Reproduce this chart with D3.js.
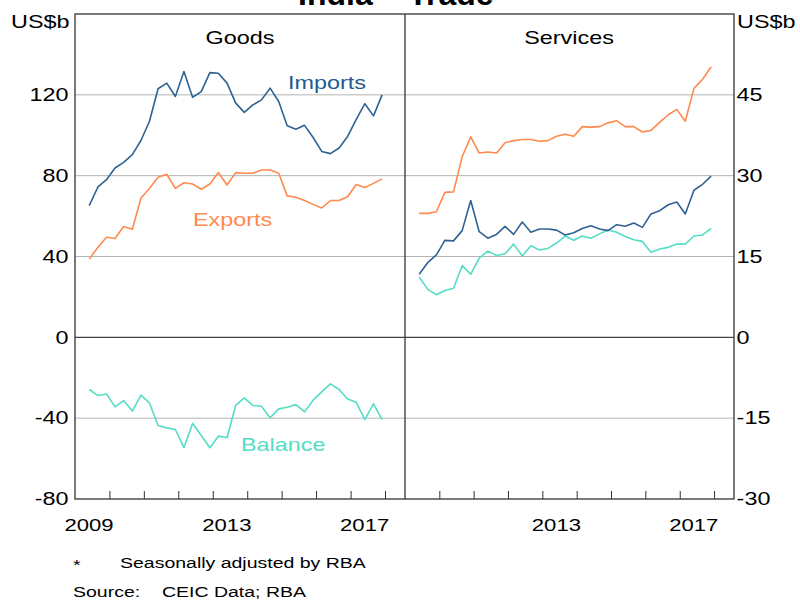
<!DOCTYPE html>
<html>
<head>
<meta charset="utf-8">
<script src="https://cdn.jsdelivr.net/npm/d3@7"></script>
<style>
  body { margin: 0; background: #fff; }
  text { font-family: "Liberation Sans", Arial, sans-serif; }
</style>
</head>
<body>
<script>
'use strict';

// quarterly observations (last month of quarter)
const quarters = [
  "2009-06", "2009-09", "2009-12", "2010-03", "2010-06", "2010-09", "2010-12",
  "2011-03", "2011-06", "2011-09", "2011-12", "2012-03", "2012-06", "2012-09",
  "2012-12", "2013-03", "2013-06", "2013-09", "2013-12", "2014-03", "2014-06",
  "2014-09", "2014-12", "2015-03", "2015-06", "2015-09", "2015-12", "2016-03",
  "2016-06", "2016-09", "2016-12", "2017-03", "2017-06", "2017-09", "2017-12"
];

// goods, US$b (left axis)
const goodsImports = [
  65.2, 74.4, 78.0, 83.8, 86.6, 90.4, 97.4, 106.8, 123.0, 125.8, 119.2, 131.5,
  118.8, 121.6, 131.0, 130.7, 125.8, 115.9, 111.3, 115.0, 117.5, 123.3, 116.7,
  104.7, 103.0, 104.9, 98.9, 92.0, 90.9, 93.7, 99.4, 107.7, 115.6, 109.6, 120.0
];
const goodsExports = [
  38.7, 44.6, 49.5, 48.9, 54.8, 53.5, 68.8, 73.7, 79.2, 80.7, 73.7, 76.5,
  75.9, 73.3, 75.9, 81.6, 75.4, 81.5, 81.2, 81.2, 82.8, 82.8, 81.2, 70.0,
  69.3, 67.7, 65.8, 64.0, 67.7, 67.7, 69.6, 75.6, 74.1, 76.2, 78.4
];
const goodsBalance = [
  -25.8, -28.8, -28.0, -34.4, -31.3, -36.5, -28.6, -32.4, -43.6, -44.8, -45.6,
  -54.6, -42.6, -48.6, -54.6, -48.9, -49.7, -33.7, -30.0, -33.7, -34.1, -39.8,
  -35.4, -34.6, -33.3, -36.9, -31.1, -27.0, -23.0, -25.8, -30.5, -32.1, -40.7,
  -32.9, -40.7
];

// services, US$b (right axis)
const servicesExports = [
  23.0, 23.0, 23.3, 26.9, 27.0, 33.5, 37.2, 34.2, 34.4, 34.2, 36.1, 36.5,
  36.7, 36.7, 36.4, 36.5, 37.3, 37.7, 37.3, 39.1, 39.0, 39.1, 39.8, 40.2,
  39.1, 39.1, 38.1, 38.4, 39.9, 41.3, 42.3, 40.1, 46.2, 47.9, 50.2
];
const servicesImports = [
  11.7, 13.9, 15.3, 18.0, 17.9, 19.8, 25.4, 19.6, 18.4, 19.1, 20.6, 19.1,
  21.4, 19.5, 20.1, 20.1, 19.9, 19.0, 19.4, 20.2, 20.7, 20.1, 19.8, 20.9,
  20.6, 21.2, 20.4, 22.9, 23.5, 24.6, 25.1, 22.9, 27.3, 28.4, 29.9
];
const servicesBalance = [
  11.2, 8.9, 7.9, 8.7, 9.1, 13.3, 11.7, 14.7, 16.0, 15.2, 15.5, 17.3,
  15.1, 17.0, 16.2, 16.5, 17.5, 18.8, 18.0, 18.8, 18.4, 19.2, 19.9, 19.5,
  18.7, 18.1, 17.8, 15.8, 16.4, 16.7, 17.3, 17.3, 18.8, 19.0, 20.2
];

// axis ticks
const leftTicks = [-80, -40, 0, 40, 80, 120];
const rightTicks = [-30, -15, 0, 15, 30, 45];
const gridTicks = [-40, 40, 80, 120];
const goodsYearLabels = [2009, 2013, 2017];
const servicesYearLabels = [2013, 2017];

(function () {

  let svgContainer = "";
  const parseQ = d3.timeParse("%Y-%m");
  const dates = quarters.map(parseQ);

  const colImports = "#2f6293";
  const colExports = "#ff8a4f";
  const colBalance = "#55dcc6";

  const top = 14, bottom = 499;
  const left = 75, mid = 405, right = 734;
  const stretch = 1.3; // text in the source is drawn wide

  window.onload = function () {
    svgContainer = d3.select('body')
      .append('svg')
      .attr('width', 800)
      .attr('height', 601);

    let maps = drawAxes();
    plotData(maps);
    makeLabels();
  }

  // wide text helper
  function addText(x, y, str, size, anchor, color) {
    return svgContainer.append('text')
      .attr('transform', 'translate(' + x + ',' + y + ') scale(' + stretch + ',1)')
      .attr('text-anchor', anchor || 'start')
      .attr('fill', color || '#000')
      .style('font-size', size + 'px')
      .text(str);
  }

  // scales, gridlines, frame and ticks
  function drawAxes() {
    let yScale = d3.scaleLinear().domain([-80, 160]).range([bottom, top]);
    let yRight = d3.scaleLinear().domain([-30, 60]).range([bottom, top]);
    let domainX = [new Date(2009, 0, 1), new Date(2018, 7, 1)];
    let xGoods = d3.scaleTime().domain(domainX).range([left, mid]);
    let xServ = d3.scaleTime().domain(domainX).range([mid, right]);

    // gridlines
    svgContainer.selectAll('.grid')
      .data(gridTicks)
      .enter()
      .append('line')
      .attr('class', 'grid')
      .attr('x1', left).attr('x2', right)
      .attr('y1', d => yScale(d)).attr('y2', d => yScale(d))
      .attr('stroke', '#b4b4b4')
      .attr('stroke-width', 1);

    // zero line
    svgContainer.append('line')
      .attr('x1', left).attr('x2', right)
      .attr('y1', yScale(0)).attr('y2', yScale(0))
      .attr('stroke', '#444')
      .attr('stroke-width', 1.2);

    // frame and divider
    svgContainer.append('rect')
      .attr('x', left).attr('y', top)
      .attr('width', right - left).attr('height', bottom - top)
      .attr('fill', 'none')
      .attr('stroke', '#333')
      .attr('stroke-width', 1.3);
    svgContainer.append('line')
      .attr('x1', mid).attr('x2', mid)
      .attr('y1', top).attr('y2', bottom)
      .attr('stroke', '#333')
      .attr('stroke-width', 1.3);

    // y axes (plain hyphen for negatives)
    let yAxisL = d3.axisLeft(yScale).tickValues(leftTicks).tickSize(0).tickPadding(5)
      .tickFormat(d => String(d));
    let gL = svgContainer.append('g')
      .attr('transform', 'translate(' + left + ',0)')
      .call(yAxisL);
    let yAxisR = d3.axisRight(yRight).tickValues(rightTicks).tickSize(0).tickPadding(2)
      .tickFormat(d => String(d));
    let gR = svgContainer.append('g')
      .attr('transform', 'translate(' + right + ',0)')
      .call(yAxisR);
    [gL, gR].forEach(g => {
      g.select('.domain').remove();
      g.selectAll('text')
        .style('font-size', '18px')
        .style('font-family', '"Liberation Sans", Arial, sans-serif')
        .attr('fill', '#000');
      g.selectAll('.tick')
        .attr('transform', function () {
          return d3.select(this).attr('transform') + ' scale(' + stretch + ',1)';
        });
    });

    // x ticks (year boundaries), pointing inward
    let years = d3.range(2010, 2019).map(y => new Date(y, 0, 1));
    [xGoods, xServ].forEach(xs => {
      let xAxis = d3.axisTop(xs).tickValues(years).tickSize(8).tickFormat('');
      let g = svgContainer.append('g')
        .attr('transform', 'translate(0,' + bottom + ')')
        .call(xAxis);
      g.select('.domain').remove();
      g.selectAll('line').attr('stroke', '#333');
    });

    // year labels centred within each year
    goodsYearLabels.forEach(d => addText(xGoods(new Date(d, 6, 1)) - 3, bottom + 32, d, 17, 'middle'));
    servicesYearLabels.forEach(d => addText(xServ(new Date(d, 6, 1)) - 3, bottom + 32, d, 17, 'middle'));

    return { xGoods: xGoods, xServ: xServ, yScale: yScale, yRight: yRight };
  }

  function plotData(map) {
    let drawLine = function (xs, ys, values, color, width) {
      let line = d3.line()
        .x((d, i) => xs(dates[i]))
        .y(d => ys(d));
      svgContainer.append('path')
        .datum(values)
        .attr('fill', 'none')
        .attr('stroke', color)
        .attr('stroke-width', width)
        .attr('stroke-linejoin', 'round')
        .attr('d', line);
    };

    drawLine(map.xGoods, map.yScale, goodsBalance, colBalance, 1.6);
    drawLine(map.xGoods, map.yScale, goodsExports, colExports, 1.6);
    drawLine(map.xGoods, map.yScale, goodsImports, colImports, 1.6);

    drawLine(map.xServ, map.yRight, servicesBalance, colBalance, 1.6);
    drawLine(map.xServ, map.yRight, servicesExports, colExports, 1.6);
    drawLine(map.xServ, map.yRight, servicesImports, colImports, 1.6);
  }

  // title, units, panel names, series names, notes
  function makeLabels() {
    svgContainer.append('text')
      .attr('x', 298)
      .attr('y', 5)
      .style('font-size', '32px')
      .style('font-weight', 'bold')
      .text('India \u2013 Trade*');

    addText(11, 28, 'US$b', 18);
    addText(737, 28, 'US$b', 18);

    addText(240, 44, 'Goods', 18, 'middle');
    addText(569, 44, 'Services', 18, 'middle');

    addText(288, 89, 'Imports', 18, 'start', '#23598f');
    addText(193, 226, 'Exports', 18, 'start', colExports);
    addText(241, 451, 'Balance', 18, 'start', colBalance);

    addText(73, 570, '*', 15);
    addText(120, 568, 'Seasonally adjusted by RBA', 15);
    addText(73, 597, 'Source:', 15);
    addText(162, 597, 'CEIC Data; RBA', 15);
  }

})();
</script>
</body>
</html>
